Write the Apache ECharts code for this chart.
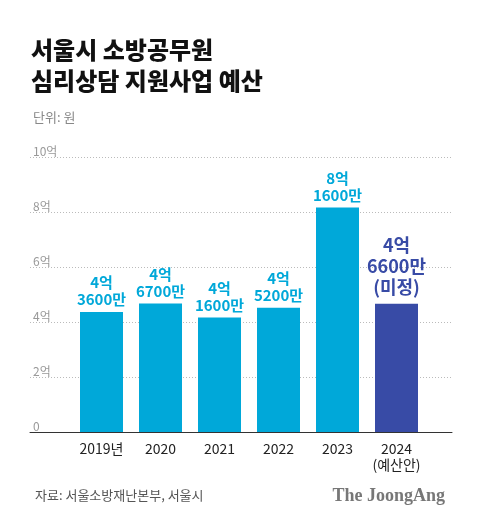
<!DOCTYPE html>
<html><head><meta charset="utf-8">
<script src="https://cdn.jsdelivr.net/npm/echarts@6/dist/echarts.min.js"></script>
<style>html,body{margin:0;padding:0;background:#fff}#c{width:480px;height:520px}</style>
</head><body><div id="c"></div>
<script>
const categories = ['2019년', '2020', '2021', '2022', '2023', '2024\n(예산안)'];
const values = [4.36, 4.67, 4.16, 4.52, 8.16, 4.66];
const valueLabels = ['4억\n3600만', '4억\n6700만', '4억\n1600만', '4억\n5200만', '8억\n1600만', '4억\n6600만\n(미정)'];
const yTicks = [0, 2, 4, 6, 8, 10];

const FONT = '"Noto Sans CJK KR", "Noto Sans", sans-serif';
const CYAN = '#00a8d9';
const NAVY = '#384ba6';

const chart = echarts.init(document.getElementById('c'), null, {renderer: 'canvas'});
chart.setOption({
  animation: false,
  backgroundColor: '#fff',
  title: [
    {text: '서울시 소방공무원\n심리상담 지원사업 예산', left: 26, top: 29,
     textStyle: {fontFamily: FONT, fontSize: 24, fontWeight: 900, color: '#111', lineHeight: 31}},
    {text: '단위: 원', left: 28, top: 106,
     textStyle: {fontFamily: FONT, fontSize: 13, fontWeight: 'normal', color: '#888'}},
    {text: '자료: 서울소방재난본부, 서울시', left: 30, top: 484,
     textStyle: {fontFamily: FONT, fontSize: 13, fontWeight: 'normal', color: '#555'}},
    {text: 'The JoongAng', right: 30, top: 482,
     textStyle: {fontFamily: '"Liberation Serif", "DejaVu Serif", serif', fontSize: 18, fontWeight: 'bold', color: '#777'}}
  ],
  grid: [
    {left: 30, right: 28, top: 157, bottom: 88},
    {left: 72, right: 54, top: 157, bottom: 88}
  ],
  xAxis: [
    {gridIndex: 0, type: 'value', min: 0, max: 1, show: true,
     axisLine: {show: true, onZero: false, lineStyle: {color: '#333', width: 1}},
     axisTick: {show: false}, axisLabel: {show: false}, splitLine: {show: false}},
    {gridIndex: 1, type: 'category', data: categories,
     axisLine: {show: false}, axisTick: {show: false},
     axisLabel: {fontFamily: FONT, fontSize: 14, color: '#222', margin: 9, lineHeight: 16, interval: 0}}
  ],
  yAxis: [
    {gridIndex: 0, type: 'value', min: 0, max: 10, interval: 2,
     axisLine: {show: false}, axisTick: {show: false},
     axisLabel: {inside: true, margin: 3, align: 'left', verticalAlign: 'bottom',
       fontFamily: FONT, fontSize: 12, color: '#999',
       formatter: v => v === 0 ? '0' : v + '억'},
     splitLine: {show: true, lineStyle: {color: '#bbb', type: [1, 2], width: 1}}},
    {gridIndex: 1, type: 'value', min: 0, max: 10, interval: 2, show: false}
  ],
  series: [{
    type: 'bar', xAxisIndex: 1, yAxisIndex: 1, barWidth: 43,
    data: values.map((v, i) => {
      const last = i === values.length - 1;
      const c = last ? NAVY : CYAN;
      return {value: v, itemStyle: {color: c},
        label: last
          ? {color: c, formatter: valueLabels[i], fontSize: 18, lineHeight: 21, distance: 6}
          : {color: c, formatter: valueLabels[i]}};
    }),
    label: {show: true, position: 'top', distance: 4,
      fontFamily: FONT, fontSize: 15, fontWeight: 'bold', lineHeight: 17}
  }]
});
</script></body></html>
